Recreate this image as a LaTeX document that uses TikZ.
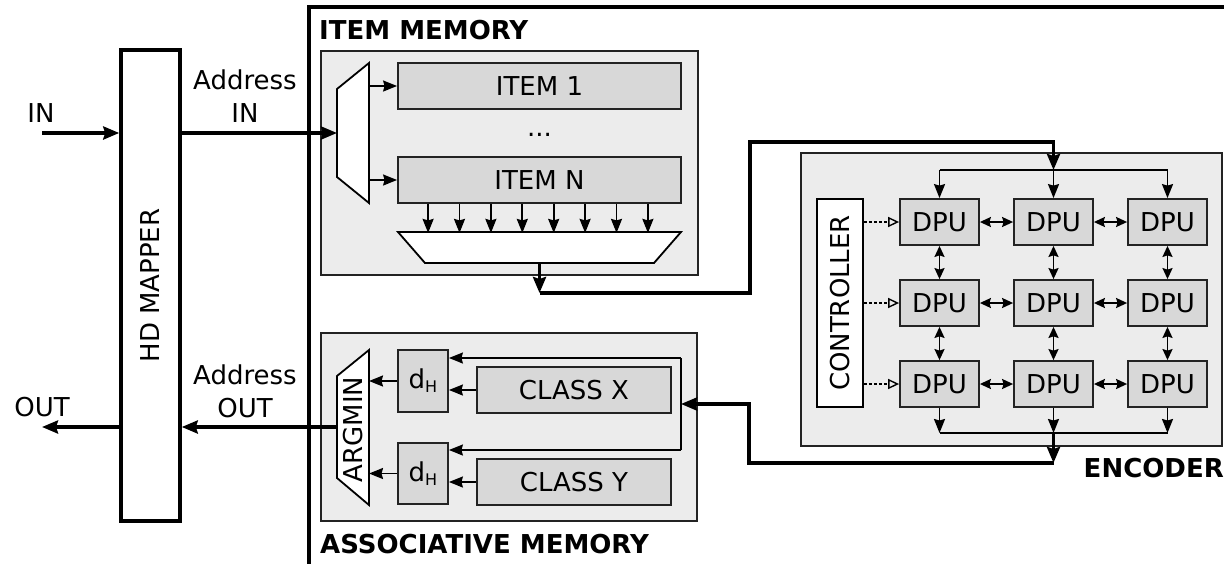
\documentclass[tikz,border=0pt]{standalone}
\usepackage{fontspec}
\setmainfont{DejaVu Sans}
\usetikzlibrary{arrows.meta}
\definecolor{panelfill}{RGB}{236,236,236}
\definecolor{blockfill}{RGB}{216,216,216}
\definecolor{edge}{RGB}{35,35,35}
\tikzset{
  txt/.style={font=\fontsize{26}{33}\selectfont, inner sep=0pt},
  title/.style={font=\fontsize{26}{33}\selectfont\bfseries, inner sep=0pt},
  panel/.style={draw=edge, line width=1.8pt, fill=panelfill, inner sep=0pt},
  block/.style={draw=edge, line width=1.8pt, fill=blockfill, inner sep=0pt, font=\fontsize{26}{33}\selectfont},
  plainbox/.style={draw=black, line width=1.8pt, fill=white, inner sep=0pt},
  bus/.style={line width=3.5pt, -{Stealth[length=16pt,width=13pt,inset=2pt]}},
  sig/.style={line width=1.8pt, -{Stealth[length=14pt,width=11pt,inset=1.5pt]}},
  sigline/.style={line width=1.8pt},
  bidir/.style={line width=1.8pt, {Stealth[length=11pt,width=10pt,inset=1.5pt]}-{Stealth[length=11pt,width=10pt,inset=1.5pt]}},
  ctrl/.style={line width=1.4pt, dash pattern=on 3pt off 2pt, -{Triangle[open,length=11pt,width=10pt]}},
  dpu/.style={block, minimum width=79pt, minimum height=46pt}
}
\begin{document}
\begin{tikzpicture}[x=1pt,y=-1pt]
\useasboundingbox (0,0) rectangle (1224,563);
\clip (0,0) rectangle (1224,563);
\fill[white] (0,0) rectangle (1224,563);

% accelerator frame (runs past the right and bottom edges)
\draw[line width=4pt] (309,7) rectangle (1240,580);

% HD mapper
\node[draw, line width=3.5pt, minimum width=59pt, minimum height=471pt, inner sep=0pt] (mapper) at (150.5,285.5) {};
\node[txt, rotate=90] (mappertxt) at (mapper.center) {HD MAPPER};

% ---------------- item memory ----------------
\node[title, anchor=base west] (imtitle) at (319,39) {ITEM MEMORY};
\node[panel, minimum width=377pt, minimum height=224pt] (impanel) at (509.5,163) {};
\node[block, minimum width=283pt, minimum height=46pt] (item1) at (539.5,86) {ITEM 1};
\node[block, minimum width=283pt, minimum height=46pt] (itemN) at (539.5,180) {ITEM N};
\node[txt, anchor=base] (dots) at (539.5,136) {...};
% address decoder
\coordinate (muxA) at (337,89);
\coordinate (muxB) at (369,63);
\coordinate (muxC) at (369,203);
\coordinate (muxD) at (337,177);
\draw[plainbox] (muxA) -- (muxB) -- (muxC) -- (muxD) -- cycle;
\coordinate (muxin) at (337,133);
% output selector
\coordinate (redA) at (398,232);
\coordinate (redB) at (681,232);
\coordinate (redC) at (654,263);
\coordinate (redD) at (425,263);
\draw[plainbox] (redA) -- (redB) -- (redC) -- (redD) -- cycle;
\coordinate (redout) at (539.5,263);

\draw[sig] (item1.west -| muxB) -- (item1.west);
\draw[sig] (itemN.west -| muxB) -- (itemN.west);
\foreach \i in {0,...,7}
  \draw[sig] ([xshift={(31+31.4*\i)*1pt}]itemN.south west) -- ++(0,29);

% ---------------- encoder ----------------
\node[panel, minimum width=421pt, minimum height=293pt] (encpanel) at (1011.5,299.5) {};
\node[title, anchor=base east] (enctitle) at (1224,477) {ENCODER};
\node[plainbox, minimum width=46pt, minimum height=208pt] (ctrl) at (840,303) {};
\node[txt, rotate=90] (ctrltxt) at (ctrl.center) {CONTROLLER};
\foreach \r/\y in {1/222,2/303,3/384}
  \foreach \c/\x in {1/939.5,2/1053.5,3/1167.5}
    \node[dpu] (dpu\r\c) at (\x,\y) {DPU};
\foreach \r in {1,2,3} {
  \draw[ctrl] (ctrl.east |- dpu\r1.west) -- (dpu\r1.west);
  \draw[bidir] (dpu\r1.east) -- (dpu\r2.west);
  \draw[bidir] (dpu\r2.east) -- (dpu\r3.west);
}
\foreach \c in {1,2,3} {
  \draw[bidir] (dpu1\c.south) -- (dpu2\c.north);
  \draw[bidir] (dpu2\c.south) -- (dpu3\c.north);
}
% broadcast into the array
\coordinate (topbus) at (1053.5,170);
\draw[sigline] (topbus -| dpu11.north) -- (topbus -| dpu13.north);
\draw[sig] (topbus -| dpu11.north) -- (dpu11.north);
\draw[sig] (topbus) -- (dpu12.north);
\draw[sig] (topbus -| dpu13.north) -- (dpu13.north);
% collection out of the array
\coordinate (botbus) at (1053.5,433);
\draw[sigline] (botbus -| dpu31.south) -- (botbus -| dpu33.south);
\draw[sig] (dpu31.south) -- (dpu31.south |- botbus);
\draw[sig] (dpu32.south) -- (botbus);
\draw[sig] (dpu33.south) -- (dpu33.south |- botbus);

% ---------------- associative memory ----------------
\node[panel, minimum width=376pt, minimum height=188pt] (ampanel) at (509,427) {};
\node[title, anchor=base west] (amtitle) at (320,553) {ASSOCIATIVE MEMORY};
\node[block, minimum width=50pt, minimum height=62pt] (dh1) at (423,381) {d\raisebox{-4pt}{\fontsize{16}{16}\selectfont H}};
\node[block, minimum width=50pt, minimum height=61pt] (dh2) at (423,473.5) {d\raisebox{-4pt}{\fontsize{16}{16}\selectfont H}};
\node[block, minimum width=194pt, minimum height=46pt] (classX) at (574,390) {CLASS X};
\node[block, minimum width=194pt, minimum height=46pt] (classY) at (574,482) {CLASS Y};
\coordinate (argA) at (369,350);
\coordinate (argB) at (369,505);
\coordinate (argC) at (337,478);
\coordinate (argD) at (337,376);
\draw[plainbox] (argA) -- (argB) -- (argC) -- (argD) -- cycle;
\node[txt, rotate=90] (argtxt) at (353,429.5) {ARGMIN};
\coordinate (argout) at (337,427);

\draw[sig] (classX.west) -- (classX.west -| dh1.east);
\draw[sig] (classY.west) -- (classY.west -| dh2.east);
\draw[sig] (dh1.west) -- (dh1.west -| argA);
\draw[sig] (dh2.west) -- (dh2.west -| argA);
\coordinate (amin) at (681,404);
\coordinate (abusT) at (681,358);
\coordinate (abusB) at (681,450);
\draw[sigline] (abusT) -- (abusB);
\draw[sig] (abusT) -- (abusT -| dh1.east);
\draw[sig] (abusB) -- (abusB -| dh2.east);

% ---------------- wide buses ----------------
\coordinate (inpt) at (42,133);
\coordinate (outpt) at (42,427);
\draw[bus] (inpt) -- (inpt -| mapper.west);
\draw[bus] (mapper.east |- muxin) -- (muxin);
\coordinate (imbend) at (539.5,293);
\draw[bus] (redout) -- (imbend);
\draw[bus] (imbend) -- (750,293) -- (750,142) -- (1053.5,142) -- (topbus);
\coordinate (encbend) at (1053.5,463);
\draw[bus] (botbus) -- (encbend);
\draw[bus] (encbend) -- (749,463) -- (749,404) -- (amin);
\draw[bus] (argout) -- (argout -| mapper.east);
\draw[bus] (argout -| mapper.west) -- (outpt);

% ---------------- port labels ----------------
\node[txt] (inlbl) at (41,113) {IN};
\node[txt] (outlbl) at (42,407) {OUT};
\node[txt, align=center] (addrin) at (245,96.5) {Address\\IN};
\node[txt, align=center] (addrout) at (245,391) {Address\\OUT};
\end{tikzpicture}
\end{document}
